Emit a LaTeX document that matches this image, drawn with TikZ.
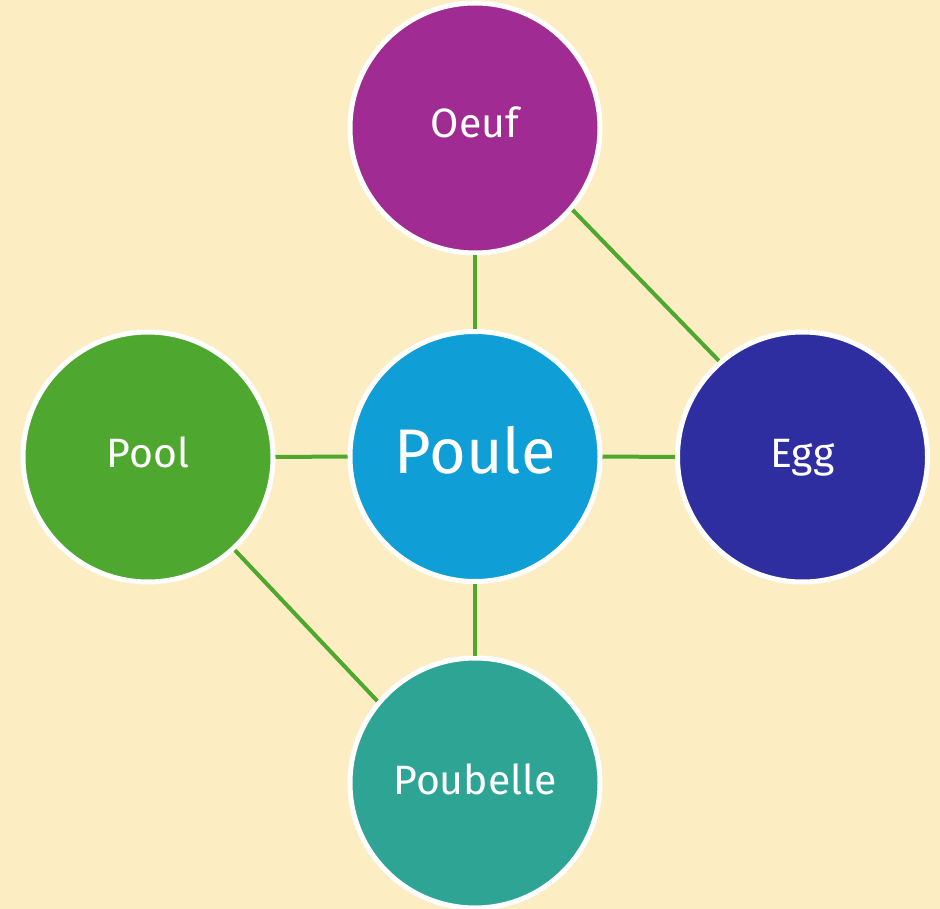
\documentclass[tikz,border=0pt]{standalone}
\usepackage{fontspec}
\setmainfont{Fira Sans}
\definecolor{bg}{HTML}{FDEDC3}
\definecolor{cOeuf}{HTML}{A02B93}
\definecolor{cPoule}{HTML}{0F9ED5}
\definecolor{cPool}{HTML}{4EA72E}
\definecolor{cEgg}{HTML}{2E2EA0}
\definecolor{cPoubelle}{HTML}{2EA495}
\definecolor{link}{HTML}{4EA72E}
\begin{document}
\begin{tikzpicture}[x=1pt,y=-1pt,
  bubble/.style={circle,draw=white,line width=5pt,minimum size=250pt,inner sep=0pt,
    text=white,font=\fontsize{41}{41}\selectfont,text height=20pt,text depth=0pt},
  hub/.style={bubble,font=\fontsize{63}{63}\selectfont,text height=33pt},
  wire/.style={draw=link,line width=4pt}]
  % canvas
  \fill[bg] (0,0) rectangle (940,909);
  \useasboundingbox (0,0) rectangle (940,909);
  % circles
  \node[hub,fill=cPoule] (poule) at (475,456.5) {Poule};
  \node[bubble,fill=cOeuf] (oeuf) at (475,128) {Oeuf};
  \node[bubble,fill=cPool] (pool) at (148,457) {Pool};
  \node[bubble,fill=cEgg] (egg) at (802.5,457) {Egg};
  \node[bubble,fill=cPoubelle,text height=23pt] (poubelle) at (475,783) {Poubelle};
  % links
  \path[wire] (oeuf.south) -- (poule.north);
  \path[wire] (pool.east) -- (poule.west);
  \path[wire] (poule.east) -- (egg.west);
  \path[wire] (poule.south) -- (poubelle.north);
  \path[wire] (oeuf.-40.6) -- (egg.131.3);
  \path[wire] (pool.-47.8) -- (poubelle.140);
\end{tikzpicture}
\end{document}
